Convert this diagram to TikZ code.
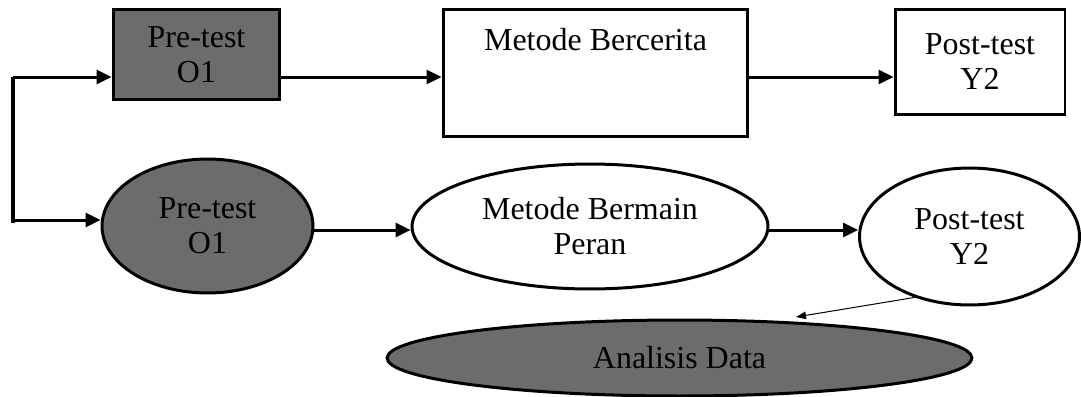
\documentclass[tikz,border=0pt]{standalone}
\usepackage{fontspec}
\setmainfont{Liberation Serif}
\usepackage{xcolor}
\usetikzlibrary{shapes,arrows.meta,positioning}
\definecolor{boxgray}{RGB}{108,108,108}

\begin{document}
\begin{tikzpicture}[x=0.02cm, y=-0.02cm,
  txt/.style={font=\fontsize{18.2}{19.9}\selectfont, align=center, inner sep=0pt},
  box/.style={txt, draw, rectangle, line width=0.06cm},
  oval/.style={txt, draw, ellipse, line width=0.06cm},
  arr/.style={line width=0.06cm, -{Triangle[length=0.3cm, width=0.28cm]}},
  thinarr/.style={line width=0.02cm, -{Triangle[length=0.2cm, width=0.15cm]}}]
\useasboundingbox (0,0) rectangle (1081,396);

% Top row: boxes
\node[box, fill=boxgray, minimum width=3.34cm, minimum height=1.82cm] (pre1) at (196.5,54.5) {Pre-test\\O1};
\node[box, minimum width=6.1cm, text height=0.82cm, text depth=1.74cm] (bercerita) at (595.5,73) {Metode Bercerita};
\node[box, minimum width=3.4cm, minimum height=2.12cm] (post1) at (980,62) {Post-test\\Y2};

% Second row: ellipses
\node[oval, fill=boxgray, minimum width=4.22cm, minimum height=2.68cm] (pre2) at (207.5,226) {Pre-test\\O1};
\node[oval, minimum width=7.12cm, minimum height=2.5cm] (bermain) at (590,226.5) {Metode Bermain\\Peran};
\node[oval, minimum width=4.4cm, minimum height=2.74cm] (post2) at (969.5,236.5) {Post-test\\Y2};

% Analysis
\node[oval, fill=boxgray, minimum width=11.7cm, minimum height=1.52cm] (analisis) at (679.5,358) {Analisis Data};

% Split on the left
\coordinate (bartop) at (13,77);
\coordinate (barbot) at (13,223);
\coordinate (bl) at (13,220);
\coordinate (row) at (0,230);
\coordinate (tip) at (796,317);
\draw[line width=0.09cm] (bartop) -- (barbot);
\draw[arr] (bartop) -- (bartop -| pre1.west);
\draw[arr] (bl) -- (bl -| pre2.west);

% Flow arrows
\draw[arr] (pre1.east |- bartop) -- (bercerita.west |- bartop);
\draw[arr] (bercerita.east |- bartop) -- (post1.west |- bartop);
\draw[arr] (pre2.east |- row) -- (bermain.west |- row);
\draw[arr] (bermain.east |- row) -- (post2.west |- row);
\draw[thinarr] (post2.228) -- (tip);

\end{tikzpicture}
\end{document}
